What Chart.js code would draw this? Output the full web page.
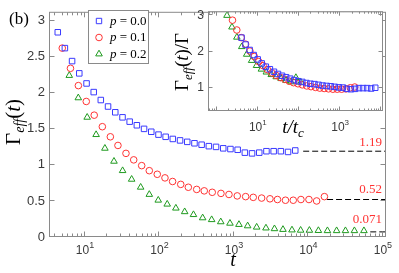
<!DOCTYPE html>
<html>
<head>
<meta charset="utf-8">
<script src="https://cdn.jsdelivr.net/npm/chart.js@4.4.1/dist/chart.umd.min.js"></script>
<style>
  body { margin: 0; background: #fff; }
  #wrap { position: relative; width: 399px; height: 273px; }
  canvas { position: absolute; top: 0; }
</style>
</head>
<body>
<div id="wrap">
  <canvas id="main" width="399" height="273" style="left:0"></canvas>
  <canvas id="inset" width="235" height="142" style="left:160px"></canvas>
</div>
<script>
// main panel: t and Gamma_eff(t) for the three p values
var tP0 = [4.31, 5.37, 6.71, 8.38, 10.5, 13.1, 16.3, 20.4, 25.5, 31.9, 39.8, 49.7, 62.1, 77.6, 97.0, 121, 151, 189, 236, 295, 368, 460, 575, 718, 897, 1121, 1400, 1750, 2186, 2731, 3412, 4262, 5325, 6653];
var gP0 = [2.84, 2.62, 2.44, 2.27, 2.13, 2.01, 1.90, 1.81, 1.73, 1.66, 1.60, 1.55, 1.50, 1.46, 1.42, 1.39, 1.36, 1.34, 1.32, 1.30, 1.28, 1.26, 1.25, 1.23, 1.22, 1.21, 1.17, 1.16, 1.17, 1.19, 1.19, 1.19, 1.18, 1.20];

var tP1 = [4.95, 6.38, 8.15, 10.4, 13.3, 17.1, 21.9, 27.7, 35.5, 45.1, 57.7, 73.0, 93.4, 118.5, 150, 193, 244, 316, 399, 511, 669, 857, 1107, 1435, 1816, 2353, 3043, 3837, 4914, 6252, 7929, 10160, 12890, 16390];
var gP1 = [2.62, 2.34, 2.10, 1.88, 1.69, 1.53, 1.39, 1.27, 1.16, 1.07, 0.99, 0.92, 0.87, 0.82, 0.77, 0.73, 0.69, 0.66, 0.64, 0.62, 0.605, 0.59, 0.57, 0.56, 0.55, 0.54, 0.53, 0.52, 0.51, 0.51, 0.52, 0.52, 0.50, 0.56];

var tP2 = [6.15, 8.13, 10.7, 14.1, 18.5, 24.5, 32.0, 42.3, 55.9, 73.0, 96.3, 127, 166, 218, 286, 380, 502, 665, 884, 1167, 1527, 2018, 2690, 3499, 4550, 6011, 7855, 10300, 13600, 18000, 23900, 31400, 41400, 55600];
var gP2 = [2.24, 1.93, 1.66, 1.42, 1.23, 1.05, 0.92, 0.80, 0.69, 0.59, 0.51, 0.455, 0.40, 0.35, 0.31, 0.265, 0.24, 0.21, 0.19, 0.173, 0.154, 0.136, 0.124, 0.114, 0.104, 0.097, 0.093, 0.092, 0.089, 0.087, 0.087, 0.087, 0.087, 0.087];

// asymptotic values (dashed lines + red labels)
var asymVals = [1.19, 0.52, 0.071];
var asymText = ['1.19', '0.52', '0.071'];
var asymFrom = [8500, 17800, 67600];

// inset: t/t_c and Gamma_eff/Gamma
var inT0 = [4.0, 5.02, 6.30, 7.90, 9.91, 12.4, 15.6, 19.6, 24.6, 30.8, 38.7, 48.5, 60.8, 76.3, 95.7, 120, 151, 189, 237, 298, 373, 469, 588, 737, 925, 1160, 1456, 1827, 2291, 2875, 3606, 4525, 5676, 7122];
var inG0 = [2.39, 2.20, 2.05, 1.91, 1.79, 1.68, 1.59, 1.52, 1.45, 1.39, 1.34, 1.30, 1.26, 1.22, 1.19, 1.17, 1.14, 1.12, 1.11, 1.09, 1.07, 1.06, 1.05, 1.035, 1.02, 1.015, 0.98, 0.97, 0.98, 1.0, 1.0, 1.0, 0.99, 1.01];
var inT1 = [2.42, 3.08, 3.94, 5.03, 6.42, 8.19, 10.5, 13.4, 17.1, 21.8, 27.8, 35.5, 45.3, 57.8, 73.8, 94.3, 120, 154, 196, 251, 320, 408, 521, 666, 849, 1084, 1386, 1770, 2259];
var inG1 = [2.87, 2.60, 2.39, 2.21, 2.02, 1.87, 1.73, 1.62, 1.51, 1.42, 1.35, 1.29, 1.24, 1.19, 1.15, 1.12, 1.09, 1.06, 1.04, 1.02, 1.00, 0.99, 0.98, 0.97, 0.97, 0.97, 0.98, 1.01, 1.03];
var inT2 = [1.78, 2.35, 3.09, 4.07, 5.36, 7.06, 9.30, 12.2, 16.1, 21.2, 27.9, 36.8, 48.4, 63.8, 84.0, 111];
var inG2 = [3.0, 2.68, 2.40, 2.14, 1.93, 1.76, 1.62, 1.52, 1.44, 1.37, 1.31, 1.26, 1.21, 1.17, 1.29, 1.16];

var SERIF = '"Liberation Serif", "DejaVu Serif", serif';
var SANS = '"Liberation Sans", Arial, sans-serif';
var BLUE = '#3a3aff', RED = '#ff3333', GREEN = '#1f9a1f';
var FRAME = '#8a8a8a', TXT = '#3a3a3a';

function pts(xs, ys) {
    return xs.map(function (x, i) { return { x: x, y: ys[i] }; });
}

function series(label, xs, ys, color, style, r) {
    return {
        label: label,
        data: pts(xs, ys),
        showLine: false,
        pointStyle: style,
        pointRadius: r,
        pointBorderWidth: 1,
        borderColor: color,
        backgroundColor: 'rgba(0,0,0,0)'
    };
}

// draws a run of text pieces with different fonts
function rich(ctx, parts, x, y, align) {
    var w = 0;
    parts.forEach(function (p) { ctx.font = p.f; p.w = ctx.measureText(p.t).width; w += p.w; });
    var cx = align === 'center' ? x - w / 2 : (align === 'right' ? x - w : x);
    ctx.textAlign = 'left';
    parts.forEach(function (p) { ctx.font = p.f; ctx.fillText(p.t, cx, y + (p.dy || 0)); cx += p.w; });
}

function seg(ctx, x1, y1, x2, y2) {
    ctx.beginPath(); ctx.moveTo(x1, y1); ctx.lineTo(x2, y2); ctx.stroke();
}

// box, inward ticks and 10^n labels
function framePlugin(o) {
    return {
        id: 'frame',
        beforeDraw: function (chart) {
            if (!o.fill) return;
            var a = chart.chartArea, ctx = chart.ctx;
            ctx.save();
            ctx.fillStyle = o.fill;
            ctx.fillRect(a.left, a.top, a.right - a.left, a.bottom - a.top);
            ctx.restore();
        },
        afterDraw: function (chart) {
            var ctx = chart.ctx, a = chart.chartArea, xs = chart.scales.x, ys = chart.scales.y;
            ctx.save();
            ctx.strokeStyle = FRAME;
            ctx.lineWidth = 1;
            var L = a.left - 0.5, R = a.right - 0.5, T = a.top - 0.5, B = a.bottom - 0.5;
            ctx.strokeRect(L, T, R - L, B - T);
            ys.ticks.forEach(function (t) {
                var p = Math.round(ys.getPixelForValue(t.value)) - 0.5;
                seg(ctx, L, p, L + o.major, p);
                seg(ctx, R - o.major, p, R, p);
            });
            var d0 = Math.floor(Math.log10(xs.min)), d1 = Math.ceil(Math.log10(xs.max));
            for (var d = d0; d <= d1; d++) {
                for (var m = 1; m < 10; m++) {
                    var v = m * Math.pow(10, d);
                    if (v < xs.min || v > xs.max) continue;
                    var p = Math.round(xs.getPixelForValue(v)) - 0.5;
                    var len = m === 1 ? o.major : o.minor;
                    seg(ctx, p, B, p, B - len);
                    seg(ctx, p, T, p, T + len);
                }
            }
            ctx.fillStyle = TXT;
            ctx.textBaseline = 'alphabetic';
            o.decades.forEach(function (d) {
                var p = xs.getPixelForValue(Math.pow(10, d));
                rich(ctx, [
                    { t: '10', f: o.lab + 'px ' + SANS },
                    { t: String(d), f: o.sup + 'px ' + SANS, dy: -o.lab * 0.45 }
                ], p, B + o.labY, 'center');
            });
            ctx.restore();
            if (o.extra) o.extra(chart, ctx);
        }
    };
}

function mainExtra(chart, ctx) {
    var ys = chart.scales.y;
    ctx.save();
    ctx.fillStyle = '#000';
    ctx.textBaseline = 'alphabetic';
    rich(ctx, [{ t: '(b)', f: '17px ' + SERIF }], 9, 24, 'left');
    rich(ctx, [{ t: 't', f: 'italic 20px ' + SERIF }], 233, 266, 'center');
    ctx.save();
    ctx.translate(20, 122);
    ctx.rotate(-Math.PI / 2);
    rich(ctx, [
        { t: '\u0393', f: '21px ' + SERIF },
        { t: 'eff', f: 'italic 14px ' + SERIF, dy: 4 },
        { t: '(', f: '21px ' + SERIF },
        { t: 't', f: 'italic 21px ' + SERIF },
        { t: ')', f: '21px ' + SERIF }
    ], 0, 0, 'center');
    ctx.restore();

    // asymptote labels
    ctx.fillStyle = RED;
    asymVals.forEach(function (v, i) {
        var p = ys.getPixelForValue(v);
        rich(ctx, [{ t: asymText[i], f: '13px ' + SERIF }], 382, p - 5 - i * 2, 'right');
    });

    // legend
    var bx = 88, by = 10, bw = 60, bh = 53;
    ctx.fillStyle = '#fff';
    ctx.fillRect(bx, by, bw, bh);
    ctx.strokeStyle = FRAME;
    ctx.lineWidth = 1;
    ctx.strokeRect(bx + 0.5, by + 0.5, bw, bh);
    var rows = [21, 37.5, 54];
    var sets = chart.data.datasets.slice(0, 3);
    sets.forEach(function (ds, i) {
        var y = rows[i], x = 99;
        ctx.strokeStyle = ds.borderColor;
        ctx.beginPath();
        if (ds.pointStyle === 'rect') {
            ctx.rect(x - 2.7, y - 2.7, 5.4, 5.4);
        } else if (ds.pointStyle === 'circle') {
            ctx.arc(x, y, 3.3, 0, Math.PI * 2);
        } else {
            ctx.moveTo(x, y - 3.8);
            ctx.lineTo(x + 3.3, y + 1.9);
            ctx.lineTo(x - 3.3, y + 1.9);
            ctx.closePath();
        }
        ctx.stroke();
        ctx.fillStyle = '#000';
        ctx.textBaseline = 'middle';
        rich(ctx, [
            { t: 'p', f: 'italic 13px ' + SERIF },
            { t: ds.label.slice(1), f: '13px ' + SERIF }
        ], 110, y + 0.5, 'left');
    });
    ctx.restore();
}

function insetExtra(chart, ctx) {
    ctx.save();
    ctx.fillStyle = '#000';
    ctx.textBaseline = 'alphabetic';
    rich(ctx, [
        { t: 't/t', f: 'italic 19px ' + SERIF },
        { t: 'c', f: 'italic 13px ' + SERIF, dy: 4 }
    ], 133, 133, 'center');
    ctx.translate(28, 62);
    ctx.rotate(-Math.PI / 2);
    rich(ctx, [
        { t: '\u0393', f: '19px ' + SERIF },
        { t: 'eff', f: 'italic 13px ' + SERIF, dy: 4 },
        { t: '(', f: '19px ' + SERIF },
        { t: 't', f: 'italic 19px ' + SERIF },
        { t: ')/\u0393', f: '19px ' + SERIF }
    ], 0, 0, 'center');
    ctx.restore();
}

var dashed = asymVals.map(function (v, i) {
    return {
        type: 'line',
        data: [{ x: asymFrom[i], y: v }, { x: 1.1e5, y: v }],
        borderColor: '#000',
        borderWidth: 1,
        borderDash: [6, 3],
        pointRadius: 0,
        fill: false
    };
});

function plainTick(v) { return String(v); }

new Chart(document.getElementById('main').getContext('2d'), {
    type: 'scatter',
    data: {
        datasets: [
            series('p = 0.0', tP0, gP0, BLUE, 'rect', 3.9),
            series('p = 0.1', tP1, gP1, RED, 'circle', 3.3),
            series('p = 0.2', tP2, gP2, GREEN, 'triangle', 3.8)
        ].concat(dashed)
    },
    options: {
        responsive: false,
        animation: false,
        devicePixelRatio: 1,
        layout: { padding: { left: 0, right: 13, top: 7, bottom: 0 } },
        plugins: { legend: { display: false }, tooltip: { enabled: false } },
        scales: {
            x: {
                type: 'logarithmic',
                min: 3.39,
                max: 1.1e5,
                afterFit: function (s) { s.height = 36; },
                grid: { display: false, drawTicks: false },
                border: { display: false },
                ticks: { display: false }
            },
            y: {
                min: 0,
                max: 3.11,
                afterFit: function (s) { s.width = 50; },
                grid: { display: false, drawTicks: false },
                border: { display: false },
                ticks: { stepSize: 0.5, includeBounds: false, padding: 5, color: TXT, font: { family: SANS, size: 13 }, callback: plainTick }
            }
        }
    },
    plugins: [framePlugin({ major: 5, minor: 3, decades: [1, 2, 3, 4, 5], lab: 12, sup: 9, labY: 17, extra: mainExtra })]
});

new Chart(document.getElementById('inset').getContext('2d'), {
    type: 'scatter',
    data: {
        datasets: [
            series('p = 0.0', inT0, inG0, BLUE, 'rect', 3.9),
            series('p = 0.1', inT1, inG1, RED, 'circle', 3.3),
            series('p = 0.2', inT2, inG2, GREEN, 'triangle', 3.8)
        ]
    },
    options: {
        responsive: false,
        animation: false,
        devicePixelRatio: 1,
        layout: { padding: { left: 0, right: 12, top: 12, bottom: 0 } },
        plugins: { legend: { display: false }, tooltip: { enabled: false } },
        scales: {
            x: {
                type: 'logarithmic',
                min: 0.65,
                max: 11000,
                afterFit: function (s) { s.height = 31; },
                grid: { display: false, drawTicks: false },
                border: { display: false },
                ticks: { display: false }
            },
            y: {
                min: 0.37,
                max: 3.09,
                afterFit: function (s) { s.width = 49; },
                grid: { display: false, drawTicks: false },
                border: { display: false },
                ticks: { stepSize: 1, includeBounds: false, padding: 5, color: TXT, font: { family: SANS, size: 12 }, callback: plainTick }
            }
        }
    },
    plugins: [framePlugin({ fill: '#fff', major: 4, minor: 2, decades: [1, 3], lab: 12, sup: 8, labY: 20, extra: insetExtra })]
});
</script>
</body>
</html>
